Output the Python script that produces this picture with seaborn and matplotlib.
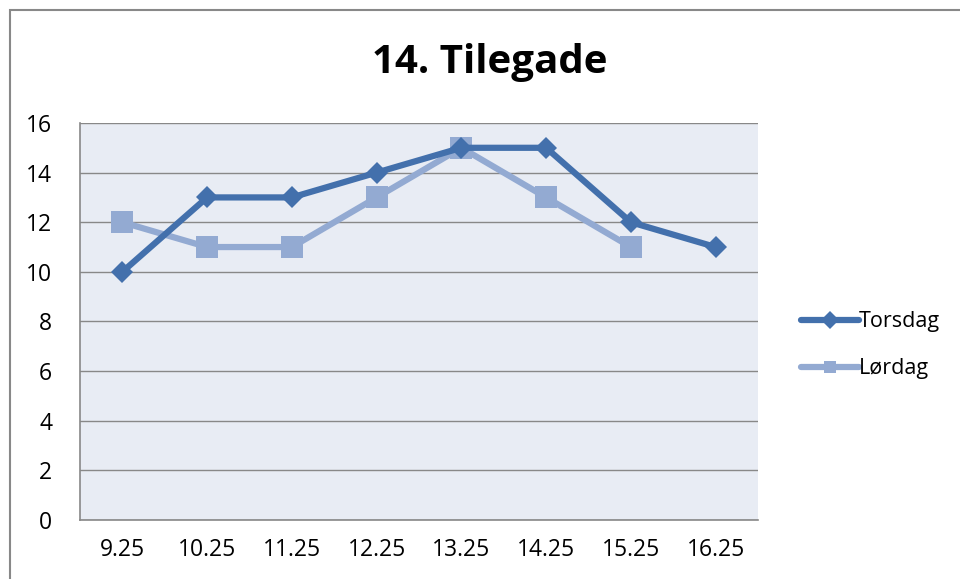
import numpy as np
import pandas as pd
import matplotlib.pyplot as plt
import seaborn as sns
from matplotlib.patches import Rectangle

# chart values
times = ["9.25", "10.25", "11.25", "12.25", "13.25", "14.25", "15.25", "16.25"]
torsdag = [10, 13, 13, 14, 15, 15, 12, 11]
lordag = [12, 11, 11, 13, 15, 13, 11, np.nan]
y_ticks = [0, 2, 4, 6, 8, 10, 12, 14, 16]

df = pd.DataFrame({"tid": times, "Torsdag": torsdag, "Lørdag": lordag})

sns.set_style("white")
plt.rcParams["font.family"] = ["Open Sans", "DejaVu Sans"]

fig = plt.figure(figsize=(9.6, 5.79), dpi=100)
ax = fig.add_axes([0.0833, 0.1019, 0.7063, 0.6857])
ax.set_facecolor("#E8ECF4")

# outer chart frame
fig.patches.append(Rectangle((10 / 960, -0.05), 1.0, 1 - 10 / 579 + 0.05,
                             transform=fig.transFigure, fill=False,
                             edgecolor="#888888", linewidth=1.5))

dark = "#4370AC"
light = "#93AAD2"

sns.lineplot(data=df, x="tid", y="Torsdag", ax=ax, color=dark, linewidth=4.5,
             marker="D", markersize=11, markeredgewidth=0, sort=False,
             label="Torsdag", zorder=3)
sns.lineplot(data=df, x="tid", y="Lørdag", ax=ax, color=light, linewidth=4.5,
             marker="s", markersize=16, markeredgewidth=0, sort=False,
             label="Lørdag", zorder=2)

ax.set_xlim(-0.5, len(times) - 0.5)
ax.set_ylim(0, 16)
ax.set_yticks(y_ticks)
ax.grid(axis="y", color="#888888", linewidth=1)
ax.set_axisbelow(True)
for side in ["top", "right"]:
    ax.spines[side].set_visible(False)
for side in ["left", "bottom"]:
    ax.spines[side].set_color("#888888")
    ax.spines[side].set_linewidth(1.2)
ax.tick_params(axis="both", length=0, labelsize=16.5, colors="black")
ax.tick_params(axis="x", pad=13)
ax.tick_params(axis="y", pad=20)
ax.set_xlabel("")
ax.set_ylabel("")

fig.text(490 / 960, 1 - 62 / 579, "14. Tilegade", ha="center", va="center",
         fontsize=29, fontweight="bold", color="black")

leg = ax.legend(loc="center left", bbox_to_anchor=(1.035, 0.44), frameon=False,
                fontsize=15.5, handlelength=2.7, handletextpad=0.0,
                labelspacing=1.2)
for h in leg.legend_handles:
    h.set_markersize(9)
for t in leg.get_texts():
    t.set_color("black")

fig.savefig("out.png", dpi=100)
